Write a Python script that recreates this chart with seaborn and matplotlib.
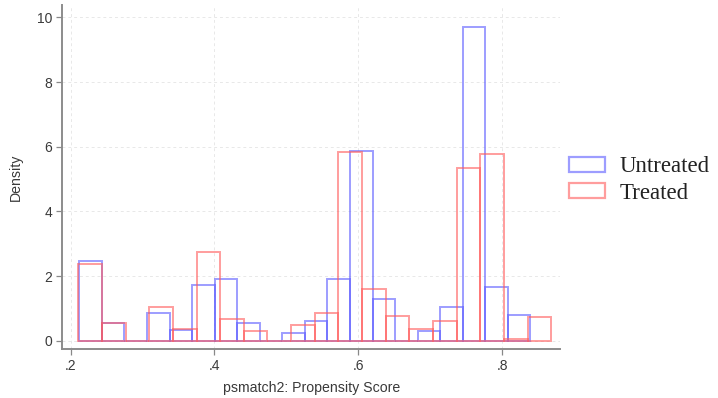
import numpy as np
import pandas as pd
import matplotlib
matplotlib.use("Agg")
import matplotlib.pyplot as plt
import seaborn as sns
from matplotlib.patches import Patch

# ---- data (density per bin, 20 bins each) ----
untreated_start = 0.2120
untreated_width = 0.03137
untreated_heights = [2.46, 0.55, 0.00, 0.87, 0.33, 1.73, 1.90, 0.55, 0.00, 0.25,
                     0.62, 1.92, 5.87, 1.28, 0.00, 0.30, 1.05, 9.69, 1.67, 0.79]

treated_start = 0.2106
treated_width = 0.03289
treated_heights = [2.36, 0.55, 0.00, 1.05, 0.36, 2.73, 0.67, 0.30, 0.00, 0.49,
                   0.87, 5.85, 1.59, 0.76, 0.35, 0.61, 5.33, 5.79, 0.05, 0.74]

x_ticks = [0.2, 0.4, 0.6, 0.8]
x_tick_labels = [".2", ".4", ".6", ".8"]
y_ticks = [0, 2, 4, 6, 8, 10]
series_names = ["Untreated", "Treated"]
colors = {"Untreated": "#5c5cff", "Treated": "#ff5c5c"}

def make_frame(start, width, heights, name):
    n = len(heights)
    centers = start + width * (np.arange(n) + 0.5)
    return pd.DataFrame({"score": centers, "density": heights, "group": name})

specs = [
    (make_frame(untreated_start, untreated_width, untreated_heights, "Untreated"),
     untreated_start, untreated_width, len(untreated_heights), "Untreated"),
    (make_frame(treated_start, treated_width, treated_heights, "Treated"),
     treated_start, treated_width, len(treated_heights), "Treated"),
]

sns.set_theme(style="white")
plt.rcParams["font.family"] = ["Liberation Sans", "DejaVu Sans"]

fig = plt.figure(figsize=(7.18, 3.98), dpi=100)
ax = fig.add_axes([0.0864, 0.123, 0.694, 0.864])

for df, start, width, n, name in specs:
    sns.histplot(data=df, x="score", weights="density",
                 binwidth=width, binrange=(start, start + n * width), stat="count",
                 fill=False, element="bars", color=colors[name], linewidth=1.4,
                 alpha=0.6, ax=ax)

ax.set_xlim(0.188, 0.881)
ax.set_ylim(-0.26, 10.38)
ax.set_xticks(x_ticks)
ax.set_xticklabels(x_tick_labels)
ax.set_yticks(y_ticks)
ax.set_yticklabels([str(v) for v in y_ticks])
ax.tick_params(axis="both", which="major", length=4, width=0.9, color="#888888",
               labelsize=10, labelcolor="#3a3a3a", direction="out",
               bottom=True, left=True, pad=3)
ax.grid(True, linestyle=(0, (3, 3)), color="#e8e8e8", linewidth=0.7)
ax.set_axisbelow(True)
for s in ["top", "right"]:
    ax.spines[s].set_visible(False)
for s in ["left", "bottom"]:
    ax.spines[s].set_color("#8c8c8c")
    ax.spines[s].set_linewidth(1.4)

ax.set_xlabel("psmatch2: Propensity Score", fontsize=10.2, color="#3a3a3a", labelpad=6)
ax.set_ylabel("Density", fontsize=10.2, color="#3a3a3a", labelpad=10)

handles = [Patch(facecolor="none", edgecolor=colors[n], linewidth=1.6, alpha=0.6)
           for n in series_names]
leg = fig.legend(handles, series_names, loc="center left",
                 bbox_to_anchor=(569 / 718, (398 - 180) / 398),
                 frameon=False, prop={"family": "Liberation Serif", "size": 16.5},
                 borderpad=0, borderaxespad=0,
                 handlelength=1.55, handleheight=0.6, labelspacing=0.22,
                 handletextpad=0.65)
for t in leg.get_texts():
    t.set_color("#222222")

fig.savefig("out.png", dpi=100)
